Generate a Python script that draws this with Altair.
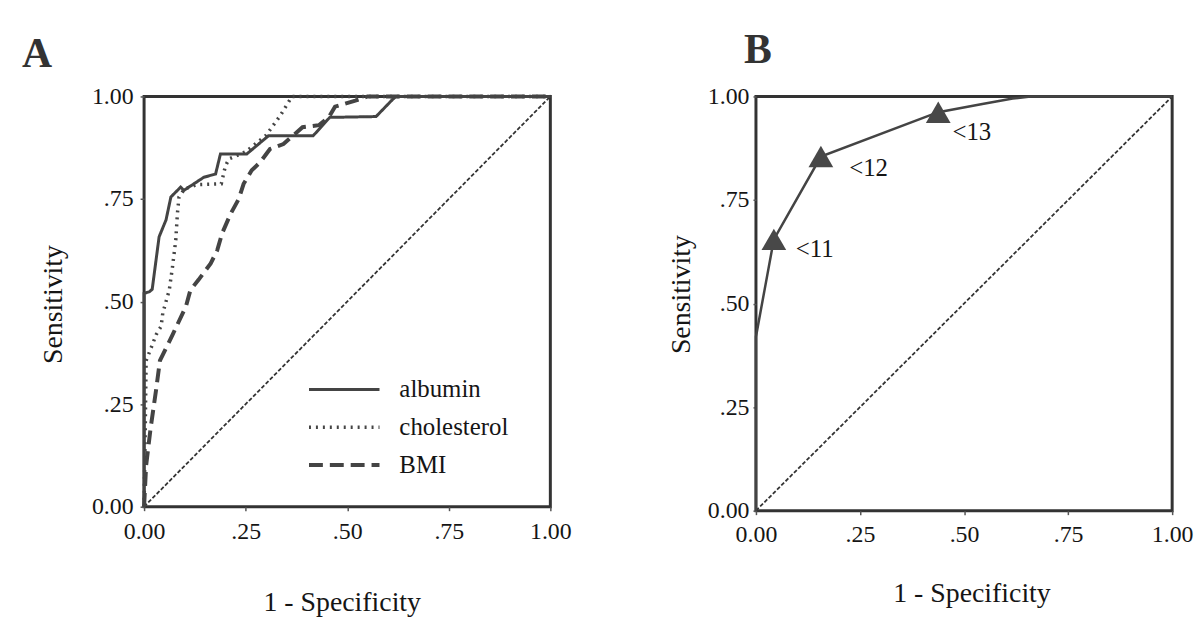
import altair as alt
import pandas as pd

# ---------------- Panel A data (ROC curves) ----------------
series_names = ["albumin", "cholesterol", "BMI"]

alb_x = [0.0, 0.0, 0.013, 0.02, 0.037, 0.054, 0.066, 0.074, 0.09, 0.098, 0.147, 0.176, 0.188, 0.253, 0.306, 0.416, 0.457, 0.571, 0.612, 0.62, 1.0]
alb_y = [0.0, 0.52, 0.524, 0.53, 0.658, 0.699, 0.755, 0.763, 0.779, 0.771, 0.803, 0.811, 0.86, 0.86, 0.904, 0.904, 0.949, 0.951, 0.993, 1.0, 1.0]

chol_x = [0.0, 0.003, 0.005, 0.02, 0.03, 0.042, 0.046, 0.062, 0.07, 0.078, 0.082, 0.086, 0.1, 0.13, 0.19, 0.2, 0.209, 0.25, 0.3, 0.335, 0.364, 1.0]
chol_y = [0.0, 0.2, 0.356, 0.394, 0.42, 0.44, 0.472, 0.528, 0.585, 0.65, 0.714, 0.755, 0.775, 0.785, 0.787, 0.83, 0.848, 0.865, 0.905, 0.953, 1.0, 1.0]

bmi_x = [0.0, 0.005, 0.016, 0.03, 0.039, 0.07, 0.103, 0.114, 0.134, 0.164, 0.18, 0.192, 0.213, 0.233, 0.245, 0.265, 0.286, 0.31, 0.343, 0.39, 0.43, 0.455, 0.47, 0.52, 0.55, 1.0]
bmi_y = [0.0, 0.1, 0.191, 0.288, 0.356, 0.419, 0.488, 0.528, 0.553, 0.593, 0.625, 0.666, 0.714, 0.75, 0.787, 0.82, 0.84, 0.872, 0.884, 0.925, 0.93, 0.95, 0.975, 0.99, 1.0, 1.0]

diag_x = [0.0, 1.0]
diag_y = [0.0, 1.0]

# ---------------- Panel B data ----------------
roc_x = [0.0, 0.0, 0.043, 0.156, 0.438, 0.544, 0.617, 0.66, 1.0]
roc_y = [0.0, 0.42, 0.655, 0.855, 0.962, 0.982, 0.995, 1.0, 1.0]
cut_x = [0.043, 0.156, 0.438]
cut_y = [0.655, 0.855, 0.962]
cut_labels = ["<11", "<12", "<13"]
lab_x = [0.0955, 0.224, 0.472]
lab_y = [0.631, 0.828, 0.915]

tick_values = [0.0, 0.25, 0.5, 0.75, 1.0]
tick_labels = ["0.00", ".25", ".50", ".75", "1.00"]

# ---------------- helpers ----------------
FONT = "Liberation Serif"
INK = "#151515"
LINE = "#444444"

label_expr = " : ".join(
    f"datum.value == {v} ? '{t}'" for v, t in zip(tick_values, tick_labels)
) + " : ''"

rows = []
for name, xs, ys in [("albumin", alb_x, alb_y), ("cholesterol", chol_x, chol_y), ("BMI", bmi_x, bmi_y)]:
    for i, (x, y) in enumerate(zip(xs, ys)):
        rows.append({"series": name, "x": x, "y": y, "i": i})
dfA = pd.DataFrame(rows)
diag_df = pd.DataFrame({"x": diag_x, "y": diag_y})
dfB = pd.DataFrame({"x": roc_x, "y": roc_y, "i": list(range(len(roc_x)))})
cutB = pd.DataFrame({"x": cut_x, "y": cut_y, "label": cut_labels, "lx": lab_x, "ly": lab_y})

sc = alt.Scale(domain=[0, 1], nice=False, zero=False)


def x_axis(title_x, title_y, pad):
    return alt.Axis(
        values=tick_values, labelExpr=label_expr, title="1 - Specificity",
        titleFont=FONT, titleFontSize=28, titleFontWeight="normal", titleColor=INK,
        titleX=title_x, titleY=title_y, titleBaseline="middle", titleAlign="center",
        labelFont=FONT, labelFontSize=24, labelColor=INK, labelPadding=pad,
        labelFlush=False, labelOverlap=False,
        tickSize=4, tickColor="#555", tickWidth=1.5, domain=False, grid=False,
    )


def y_axis(title_x, title_y, pad, tsize):
    return alt.Axis(
        values=tick_values, labelExpr=label_expr, title="Sensitivity",
        titleFont=FONT, titleFontSize=28, titleFontWeight="normal", titleColor=INK,
        titleX=title_x, titleY=title_y, titleAngle=270, titleBaseline="middle", titleAlign="center",
        labelFont=FONT, labelFontSize=24, labelColor=INK, labelPadding=pad,
        labelFlush=False, labelOverlap=False,
        tickSize=tsize, tickColor="#555", tickWidth=1.5, domain=False, grid=False,
    )


# ---------------- Panel A ----------------
diagA = alt.Chart(diag_df).mark_line(color="#333", strokeWidth=1.8, strokeDash=[4, 2]).encode(
    x=alt.X("x:Q", scale=sc, axis=x_axis(199, 96, 9)),
    y=alt.Y("y:Q", scale=sc, axis=y_axis(-91, 209, 7, 4)),
)
curvesA = alt.Chart(dfA).mark_line(color=LINE).encode(
    x=alt.X("x:Q", scale=sc),
    y=alt.Y("y:Q", scale=sc),
    strokeDash=alt.StrokeDash(
        "series:N",
        scale=alt.Scale(domain=series_names, range=[[1, 0], [2, 5], [14, 7]]),
        legend=alt.Legend(
            orient="none", legendX=164, legendY=283, title=None,
            symbolType="stroke", symbolSize=5041, symbolStrokeWidth=3,
            symbolStrokeColor=LINE, clipHeight=24, rowPadding=13,
            labelFont=FONT, labelFontSize=25, labelColor=INK, labelOffset=18,
            padding=0,
        ),
    ),
    strokeWidth=alt.StrokeWidth(
        "series:N", scale=alt.Scale(domain=series_names, range=[3, 4, 3.5]), legend=None,
    ),
    order=alt.Order("i:Q"),
)
panelA = alt.layer(diagA, curvesA).properties(
    width=409, height=413,
    title=alt.TitleParams("A", anchor="start", frame="group", dx=-123, offset=-24,
                          font=FONT, fontSize=42, fontWeight="bold", color="#333",
                          baseline="alphabetic"),
)

# ---------------- Panel B ----------------
diagB = alt.Chart(diag_df).mark_line(color="#333", strokeWidth=1.8, strokeDash=[4, 2]).encode(
    x=alt.X("x:Q", scale=sc, axis=x_axis(217, 83, 8)),
    y=alt.Y("y:Q", scale=sc, axis=y_axis(-75, 199, 4, 3)),
)
lineB = alt.Chart(dfB).mark_line(color=LINE, strokeWidth=2.5).encode(
    x=alt.X("x:Q", scale=sc), y=alt.Y("y:Q", scale=sc), order=alt.Order("i:Q"),
)
triB = alt.Chart(cutB).mark_point(shape="triangle-up", filled=True, size=620, color="#484848", opacity=1).encode(
    x=alt.X("x:Q", scale=sc), y=alt.Y("y:Q", scale=sc),
)
textB = alt.Chart(cutB).mark_text(font=FONT, fontSize=25, color=INK, align="left", baseline="middle").encode(
    x=alt.X("lx:Q", scale=sc), y=alt.Y("ly:Q", scale=sc), text="label:N",
)
panelB = alt.layer(diagB, lineB, triB, textB).properties(
    width=419, height=417,
    title=alt.TitleParams("B", anchor="start", frame="group", dx=-12, offset=-20,
                          font=FONT, fontSize=42, fontWeight="bold", color="#333",
                          baseline="alphabetic"),
)

chart = alt.concat(panelA, panelB, columns=2, align="none", spacing=93).properties(
    padding={"left": 12, "top": 17, "right": 0, "bottom": 0},
    background="white",
).configure_view(stroke="#333", strokeWidth=3)

chart.save("out.html", embed_options={"renderer": "svg", "actions": False})
